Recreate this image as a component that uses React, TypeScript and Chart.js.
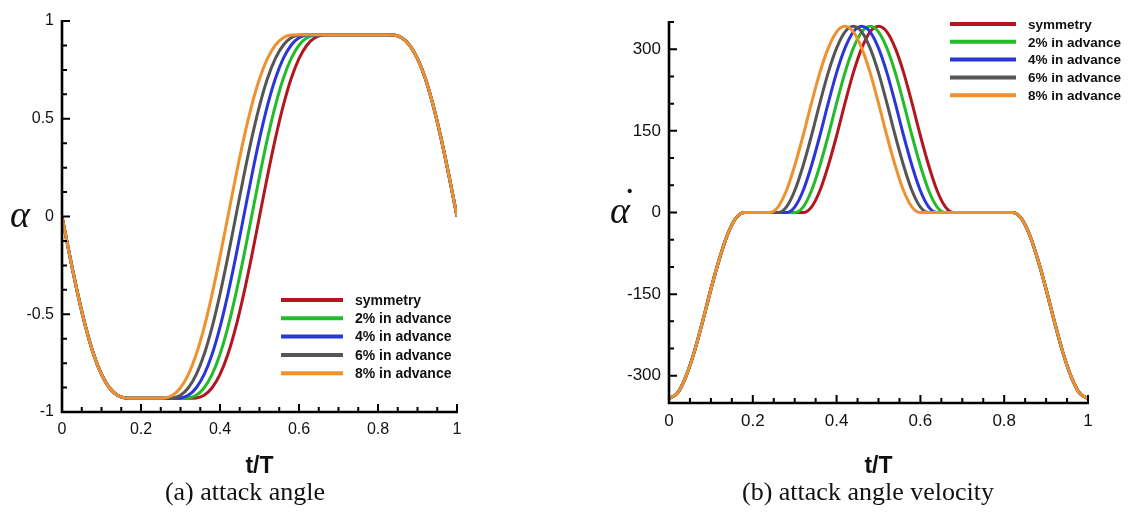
import React, { useEffect, useRef } from "react";
import { Chart, registerables } from "chart.js";

Chart.register(...registerables);

// ---------- data ----------
const tGrid = [
  0, 0.02, 0.04, 0.06, 0.08, 0.1, 0.12, 0.14, 0.16, 0.18,
  0.2, 0.22, 0.24, 0.26, 0.28, 0.3, 0.32, 0.34, 0.36, 0.38,
  0.4, 0.42, 0.44, 0.46, 0.48, 0.5, 0.52, 0.54, 0.56, 0.58,
  0.6, 0.62, 0.64, 0.66, 0.68, 0.7, 0.72, 0.74, 0.76, 0.78,
  0.8, 0.82, 0.84, 0.86, 0.88, 0.9, 0.92, 0.94, 0.96, 0.98, 1,
];

const seriesLabels = ["symmetry", "2% in advance", "4% in advance", "6% in advance", "8% in advance"];
const seriesColors = ["#b3161e", "#22bb2a", "#2b36d6", "#555555", "#ef9130"];

// attack angle (a)
const alphaSym = [
  0, -0.205, -0.397, -0.566, -0.705, -0.808, -0.876, -0.914, -0.928, -0.93,
  -0.93, -0.93, -0.93, -0.93, -0.93, -0.93, -0.93,
  -0.928, -0.914, -0.876, -0.808, -0.705, -0.566, -0.397, -0.205, 0,
  0.205, 0.397, 0.566, 0.705, 0.808, 0.876, 0.914, 0.928, 0.93,
  0.93, 0.93, 0.93, 0.93, 0.93, 0.93, 0.93,
  0.928, 0.914, 0.876, 0.808, 0.705, 0.566, 0.397, 0.205, 0,
];
const alpha2 = [
  0, -0.205, -0.397, -0.566, -0.705, -0.808, -0.876, -0.914, -0.928, -0.93,
  -0.93, -0.93, -0.93, -0.93, -0.93, -0.93,
  -0.928, -0.914, -0.876, -0.808, -0.705, -0.566, -0.397, -0.205, 0,
  0.205, 0.397, 0.566, 0.705, 0.808, 0.876, 0.914, 0.928, 0.93,
  0.93, 0.93, 0.93, 0.93, 0.93, 0.93, 0.93, 0.93,
  0.928, 0.914, 0.876, 0.808, 0.705, 0.566, 0.397, 0.205, 0,
];
const alpha4 = [
  0, -0.205, -0.397, -0.566, -0.705, -0.808, -0.876, -0.914, -0.928, -0.93,
  -0.93, -0.93, -0.93, -0.93, -0.93,
  -0.928, -0.914, -0.876, -0.808, -0.705, -0.566, -0.397, -0.205, 0,
  0.205, 0.397, 0.566, 0.705, 0.808, 0.876, 0.914, 0.928, 0.93,
  0.93, 0.93, 0.93, 0.93, 0.93, 0.93, 0.93, 0.93, 0.93,
  0.928, 0.914, 0.876, 0.808, 0.705, 0.566, 0.397, 0.205, 0,
];
const alpha6 = [
  0, -0.205, -0.397, -0.566, -0.705, -0.808, -0.876, -0.914, -0.928, -0.93,
  -0.93, -0.93, -0.93, -0.93,
  -0.928, -0.914, -0.876, -0.808, -0.705, -0.566, -0.397, -0.205, 0,
  0.205, 0.397, 0.566, 0.705, 0.808, 0.876, 0.914, 0.928, 0.93,
  0.93, 0.93, 0.93, 0.93, 0.93, 0.93, 0.93, 0.93, 0.93, 0.93,
  0.928, 0.914, 0.876, 0.808, 0.705, 0.566, 0.397, 0.205, 0,
];
const alpha8 = [
  0, -0.205, -0.397, -0.566, -0.705, -0.808, -0.876, -0.914, -0.928, -0.93,
  -0.93, -0.93, -0.93,
  -0.928, -0.914, -0.876, -0.808, -0.705, -0.566, -0.397, -0.205, 0,
  0.205, 0.397, 0.566, 0.705, 0.808, 0.876, 0.914, 0.928, 0.93,
  0.93, 0.93, 0.93, 0.93, 0.93, 0.93, 0.93, 0.93, 0.93, 0.93, 0.93,
  0.928, 0.914, 0.876, 0.808, 0.705, 0.566, 0.397, 0.205, 0,
];

// attack angle velocity (b)
const velSym = [
  -342, -332, -302, -257, -201, -141, -86, -40, -10, 0,
  0, 0, 0, 0, 0, 0, 0,
  10, 40, 86, 141, 201, 257, 302, 332, 342,
  332, 302, 257, 201, 141, 86, 40, 10, 0,
  0, 0, 0, 0, 0, 0, 0,
  -10, -40, -86, -141, -201, -257, -302, -332, -342,
];
const vel2 = [
  -342, -332, -302, -257, -201, -141, -86, -40, -10, 0,
  0, 0, 0, 0, 0, 0,
  10, 40, 86, 141, 201, 257, 302, 332, 342,
  332, 302, 257, 201, 141, 86, 40, 10, 0,
  0, 0, 0, 0, 0, 0, 0, 0,
  -10, -40, -86, -141, -201, -257, -302, -332, -342,
];
const vel4 = [
  -342, -332, -302, -257, -201, -141, -86, -40, -10, 0,
  0, 0, 0, 0, 0,
  10, 40, 86, 141, 201, 257, 302, 332, 342,
  332, 302, 257, 201, 141, 86, 40, 10, 0,
  0, 0, 0, 0, 0, 0, 0, 0, 0,
  -10, -40, -86, -141, -201, -257, -302, -332, -342,
];
const vel6 = [
  -342, -332, -302, -257, -201, -141, -86, -40, -10, 0,
  0, 0, 0, 0,
  10, 40, 86, 141, 201, 257, 302, 332, 342,
  332, 302, 257, 201, 141, 86, 40, 10, 0,
  0, 0, 0, 0, 0, 0, 0, 0, 0, 0,
  -10, -40, -86, -141, -201, -257, -302, -332, -342,
];
const vel8 = [
  -342, -332, -302, -257, -201, -141, -86, -40, -10, 0,
  0, 0, 0,
  10, 40, 86, 141, 201, 257, 302, 332, 342,
  332, 302, 257, 201, 141, 86, 40, 10, 0,
  0, 0, 0, 0, 0, 0, 0, 0, 0, 0, 0,
  -10, -40, -86, -141, -201, -257, -302, -332, -342,
];

// ticks
const xTicks = [0, 0.2, 0.4, 0.6, 0.8, 1];
const xMinor = [0.05, 0.1, 0.15, 0.25, 0.3, 0.35, 0.45, 0.5, 0.55, 0.65, 0.7, 0.75, 0.85, 0.9, 0.95];
const yTicksA = [-1, -0.5, 0, 0.5, 1];
const yMinorA = [-0.875, -0.75, -0.625, -0.375, -0.25, -0.125, 0.125, 0.25, 0.375, 0.625, 0.75, 0.875];
const yTicksB = [-300, -150, 0, 150, 300];
const yMinorB = [-350, -250, -200, -100, -50, 50, 100, 200, 250, 350];

const xTitle = "t/T";
const captionA = "(a) attack angle";
const captionB = "(b) attack angle velocity";
const yLabelA = "\u03b1";
const yLabelB = "\u03b1";
const dotAbove = "\u02d9";

// ---------- styling ----------
const SANS = "'Liberation Sans', Arial, Helvetica, sans-serif";
const SERIF = "'Liberation Serif', 'Times New Roman', serif";

const axesPlugin = {
  id: "tecAxes",
  afterDatasetsDraw(chart: any, _args: any, opts: any) {
    const { ctx, chartArea } = chart;
    const { left, right, top, bottom } = chartArea;
    const xs = chart.scales.x;
    const ys = chart.scales.y;
    ctx.save();
    ctx.strokeStyle = "#000";
    ctx.lineCap = "butt";
    ctx.lineWidth = 2;
    ctx.beginPath();
    for (const v of opts.xMajor) {
      const p = xs.getPixelForValue(v);
      ctx.moveTo(p, bottom);
      ctx.lineTo(p, bottom - 8);
    }
    for (const v of opts.xMinor) {
      const p = xs.getPixelForValue(v);
      ctx.moveTo(p, bottom);
      ctx.lineTo(p, bottom - 5);
    }
    for (const v of opts.yMajor) {
      const p = ys.getPixelForValue(v);
      ctx.moveTo(left, p);
      ctx.lineTo(left + 8, p);
    }
    for (const v of opts.yMinor) {
      const p = ys.getPixelForValue(v);
      ctx.moveTo(left, p);
      ctx.lineTo(left + 5, p);
    }
    ctx.stroke();
    ctx.lineWidth = 2.6;
    ctx.beginPath();
    ctx.moveTo(left, top - 1);
    ctx.lineTo(left, bottom);
    ctx.lineTo(right + 1, bottom);
    ctx.stroke();
    ctx.restore();
  },
};

const legendPlugin = {
  id: "tecLegend",
  afterDraw(chart: any, _args: any, opts: any) {
    const { ctx } = chart;
    ctx.save();
    ctx.font = opts.font;
    ctx.textBaseline = "middle";
    ctx.textAlign = "left";
    chart.data.datasets.forEach((ds: any, i: number) => {
      const y = opts.y0 + i * opts.dy;
      ctx.strokeStyle = ds.borderColor;
      ctx.lineWidth = 4;
      ctx.beginPath();
      ctx.moveTo(opts.x1, y);
      ctx.lineTo(opts.x2, y);
      ctx.stroke();
      ctx.fillStyle = "#111";
      ctx.fillText(ds.label, opts.tx, y + 1);
    });
    ctx.restore();
  },
};

function makeConfig(
  series: number[][],
  yMin: number,
  yMax: number,
  yTicks: number[],
  yMinor: number[],
  layoutPad: any,
  yWidth: number,
  xHeight: number,
  tickFont: any,
  legendOpts: any
) {
  return {
    type: "line" as const,
    data: {
      datasets: series.map((arr, i) => ({
        label: seriesLabels[i],
        data: tGrid.map((t, j) => ({ x: t, y: arr[j] })),
        borderColor: seriesColors[i],
        backgroundColor: seriesColors[i],
        borderWidth: 3,
        pointRadius: 0,
        fill: false,
        cubicInterpolationMode: "monotone" as const,
        order: 5 - i,
      })),
    },
    options: {
      animation: false as const,
      responsive: false,
      maintainAspectRatio: false,
      events: [],
      layout: { padding: layoutPad },
      plugins: {
        legend: { display: false },
        tooltip: { enabled: false },
        tecAxes: { xMajor: xTicks, xMinor: xMinor, yMajor: yTicks, yMinor: yMinor },
        tecLegend: legendOpts,
      },
      scales: {
        x: {
          type: "linear" as const,
          min: 0,
          max: 1,
          afterBuildTicks: (s: any) => {
            s.ticks = xTicks.map((v) => ({ value: v }));
          },
          afterFit: (s: any) => {
            s.height = xHeight;
          },
          grid: { display: false, drawTicks: false, tickLength: 0 },
          border: { display: false },
          ticks: {
            padding: 8,
            font: tickFont,
            color: "#111",
            maxRotation: 0,
            autoSkip: false,
            callback: (v: any) => String(v),
          },
          title: {
            display: true,
            text: xTitle,
            font: { family: SANS, size: 23, weight: "bold" },
            color: "#111",
            padding: { top: 0, bottom: 32 },
          },
        },
        y: {
          type: "linear" as const,
          min: yMin,
          max: yMax,
          afterBuildTicks: (s: any) => {
            s.ticks = yTicks.map((v) => ({ value: v }));
          },
          afterFit: (s: any) => {
            s.width = yWidth;
          },
          grid: { display: false, drawTicks: false, tickLength: 0 },
          border: { display: false },
          ticks: {
            padding: 8,
            font: tickFont,
            color: "#111",
            autoSkip: false,
            callback: (v: any) => String(v),
          },
        },
      },
    },
    plugins: [axesPlugin, legendPlugin],
  };
}

export default function App() {
  const refA = useRef<HTMLCanvasElement | null>(null);
  const refB = useRef<HTMLCanvasElement | null>(null);

  useEffect(() => {
    const chartA = new Chart(
      refA.current as HTMLCanvasElement,
      makeConfig(
        [alphaSym, alpha2, alpha4, alpha6, alpha8],
        -1,
        1,
        yTicksA,
        yMinorA,
        { left: 0, right: 110, top: 21, bottom: 0 },
        62,
        100,
        { family: SANS, size: 16 },
        { x1: 281, x2: 343, tx: 355, y0: 300, dy: 18.3, font: `bold 14px ${SANS}` }
      ) as any
    );
    const chartB = new Chart(
      refB.current as HTMLCanvasElement,
      makeConfig(
        [velSym, vel2, vel4, vel6, vel8],
        -350,
        350,
        yTicksB,
        yMinorB,
        { left: 0, right: 47, top: 22, bottom: 0 },
        102,
        109,
        { family: SANS, size: 17 },
        { x1: 383, x2: 449, tx: 461, y0: 24, dy: 17.8, font: `bold 13.5px ${SANS}` }
      ) as any
    );
    return () => {
      chartA.destroy();
      chartB.destroy();
    };
  }, []);

  const wrap: React.CSSProperties = {
    position: "absolute",
    left: 0,
    top: 0,
    width: 1135,
    height: 512,
    background: "#fff",
    overflow: "hidden",
  };
  const caption: React.CSSProperties = {
    position: "absolute",
    top: 477,
    width: 400,
    textAlign: "center",
    fontFamily: SERIF,
    fontSize: 26,
    lineHeight: "30px",
    color: "#111",
    whiteSpace: "nowrap",
  };
  const greek: React.CSSProperties = {
    position: "absolute",
    fontFamily: SERIF,
    fontStyle: "italic",
    fontSize: 38,
    lineHeight: "38px",
    color: "#111",
  };
  const dot: React.CSSProperties = {
    position: "absolute",
    fontFamily: SERIF,
    fontSize: 40,
    lineHeight: "40px",
    color: "#111",
  };

  return (
    <div style={wrap}>
      <canvas
        ref={refA}
        width={567}
        height={512}
        style={{ position: "absolute", left: 0, top: 0, width: 567, height: 512 }}
      />
      <canvas
        ref={refB}
        width={568}
        height={512}
        style={{ position: "absolute", left: 567, top: 0, width: 568, height: 512 }}
      />
      <div style={{ ...greek, left: 10, top: 195 }}>{yLabelA}</div>
      <div style={{ ...greek, left: 610, top: 191 }}>{yLabelB}</div>
      <div style={{ ...dot, left: 623, top: 182 }}>{dotAbove}</div>
      <div style={{ ...caption, left: 45 }}>{captionA}</div>
      <div style={{ ...caption, left: 668 }}>{captionB}</div>
    </div>
  );
}
